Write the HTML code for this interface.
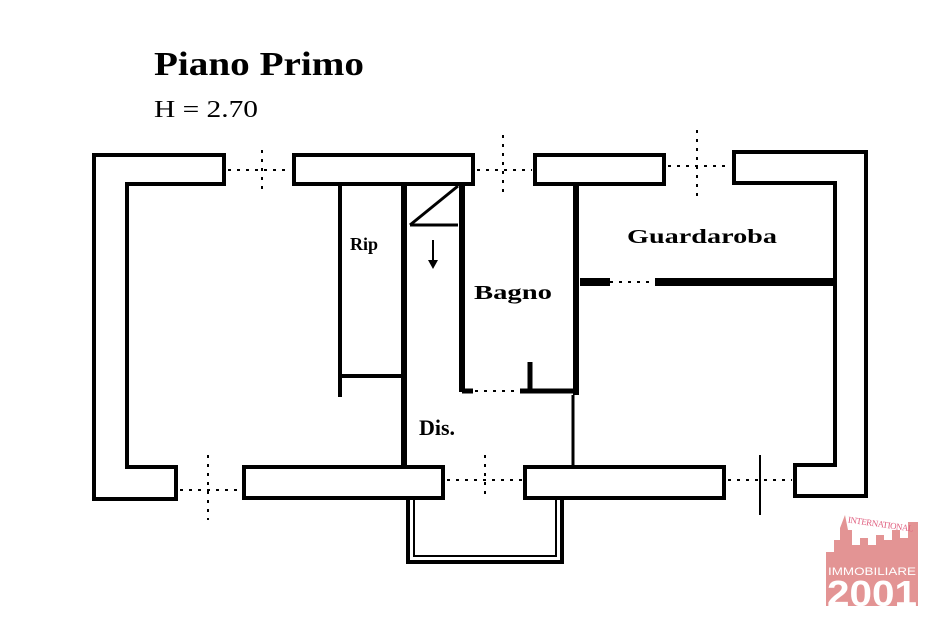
<!DOCTYPE html>
<html><head><meta charset="utf-8"><style>
body{margin:0;background:#fff;width:934px;height:621px;overflow:hidden}
svg{display:block}
</style></head><body>
<svg width="934" height="621" viewBox="0 0 934 621" xmlns="http://www.w3.org/2000/svg">
<g fill="none" stroke="#000" stroke-width="4" stroke-linejoin="miter">
<path d="M94,155 H224 V184 H127 V467 H176 V499 H94 Z"/>
<rect x="294" y="155" width="179" height="29"/>
<rect x="535" y="155" width="129" height="29"/>
<path d="M734,152 H866 V496 H795 V465 H835 V183 H734 Z"/>
<rect x="244" y="467" width="199" height="31"/>
<rect x="525" y="467" width="199" height="31"/>
<path d="M408,498 V562 H562 V498"/>
<path d="M414,498 V556 H556 V498" stroke-width="2"/>
<path d="M340,184 V397"/>
<path d="M340,376 H404"/>
<path d="M404,184 V467" stroke-width="6"/>
<path d="M462,184 V392" stroke-width="6"/>
<path d="M410,225 L458,186" stroke-width="3"/>
<path d="M410,225 H458" stroke-width="3"/>
<path d="M462,391 H473" stroke-width="5"/>
<path d="M520,391 H574" stroke-width="5"/>
<path d="M530,362 V391" stroke-width="5"/>
<path d="M576,184 V395" stroke-width="6"/>
<path d="M573,395 V467" stroke-width="3"/>
<path d="M580,282 H610" stroke-width="8"/>
<path d="M655,282 H836" stroke-width="8"/>
<path d="M835,283 V465" stroke-width="4"/>
</g>
<g stroke="#000" stroke-width="2" stroke-dasharray="3,6" fill="none">
<path d="M228,170 H290"/><path d="M262,150 V192"/>
<path d="M477,170 H532"/><path d="M503,135 V198"/>
<path d="M668,166 H730"/><path d="M697,130 V200"/>
<path d="M180,490 H240"/><path d="M208,455 V520"/>
<path d="M447,480 H522"/><path d="M485,455 V500"/>
<path d="M728,480 H792"/><path d="M760,455 V515" stroke-dasharray="none"/>
<path d="M475,391 H520"/>
<path d="M610,282 H655"/>
</g>
<path d="M433,240 V262" stroke="#000" stroke-width="2"/>
<path d="M428,260 L433,269 L438,260 Z" fill="#000"/>
<g font-family="Liberation Serif, serif" font-weight="bold" fill="#000">
<text x="154" y="75" font-size="34" textLength="210" lengthAdjust="spacingAndGlyphs">Piano Primo</text>
<text x="154" y="117" font-size="24" font-weight="normal" textLength="104" lengthAdjust="spacingAndGlyphs">H = 2.70</text>
<text x="350" y="250" font-size="18">Rip</text>
<text x="474" y="299" font-size="20" textLength="78" lengthAdjust="spacingAndGlyphs">Bagno</text>
<text x="627" y="243" font-size="20" textLength="150" lengthAdjust="spacingAndGlyphs">Guardaroba</text>
<text x="419" y="435" font-size="22">Dis.</text>
</g>
<g>
<path d="M826,606 V552 H834 V540 H840 V528 L845,515 L848,530 H852 V545 H860 V538 H868 V545 H876 V535 H884 V540 H892 V530 H900 V538 H908 V522 H918 V606 Z" fill="#e39494"/>
<text x="848" y="527" font-family="Liberation Serif, serif" font-size="9" fill="#e06080" transform="rotate(8 880 522)" textLength="66">INTERNATIONAL</text>
<text x="828" y="575" font-family="Liberation Sans, sans-serif" font-size="11" fill="#fff" textLength="88" lengthAdjust="spacingAndGlyphs">IMMOBILIARE</text>
<text x="827" y="606" font-family="Liberation Sans, sans-serif" font-weight="bold" font-size="36" fill="#fff" textLength="90" lengthAdjust="spacingAndGlyphs">2001</text>
</g>
</svg>
</body></html>
